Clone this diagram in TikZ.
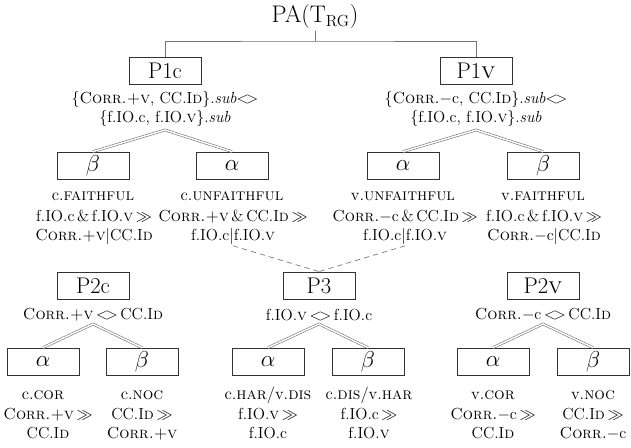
\documentclass[tikz,border=0pt]{standalone}
\usepackage{amsmath,amssymb}
\newcommand{\CCId}{CC.I\textsc{d}}
\newcommand{\mydia}{$\mathord{<}\mkern-3mu\mathord{>}$}
\newcommand{\Cp}{\textsc{Corr.+v}}
\newcommand{\Cm}{\textsc{Corr.}$-$c}
\newcommand{\fc}{f.IO.c}
\newcommand{\fv}{f.IO.\textsc{v}}
\newcommand{\mgg}{\,$\gg$}
\begin{document}
\begin{tikzpicture}[x=0.75pt,y=-0.75pt,
  every node/.style={font=\fontsize{12}{14.25}\selectfont, inner sep=1pt},
  pbox/.style={draw=black!80, line width=0.6pt, minimum width=54pt, minimum height=20.25pt, inner sep=0pt, font=\fontsize{17}{20}\selectfont},
  lab/.style={align=center},
  tag/.style={font=\fontsize{12.5}{15}\selectfont},
  dbl/.style={draw=black!55, double=white, double distance=1.1pt, line width=0.45pt},
  conn/.style={draw=black!55, line width=0.6pt},
  dsh/.style={draw=black!55, dash pattern=on 4pt off 3pt, line width=0.5pt}]
\useasboundingbox (0,0) rectangle (631,447);

% root
\node[font=\fontsize{18}{20}\selectfont] (root) at (315,17) {PA(T$_{\mathrm{RG}}$)};
\coordinate (rj) at (315,41);
\node[pbox] (p1c) at (165,71) {P1c};
\node[pbox] (p1v) at (476,71) {P1\textsc{v}};
\draw[conn] (root.south) -- (rj);
\draw[conn] (p1c.north) |- (rj) -| (p1v.north);

% level 1 texts
\node[lab] (t1c) at (165,109) {$\{$\Cp, \CCId$\}$.\textit{sub}\mydia\\ $\{$\fc, \fv$\}$.\textit{sub}};
\node[lab] (t1v) at (476,109) {$\{$\Cm, \CCId$\}$.\textit{sub}\mydia\\ $\{$\fc, \fv$\}$.\textit{sub}};
\coordinate (x1c) at (165,130);
\coordinate (x1v) at (476,130);

% level 2 boxes
\node[pbox] (b1) at (93,165.5) {$\beta$};
\node[pbox] (a1) at (232,165.5) {$\alpha$};
\node[pbox] (a2) at (403,165.5) {$\alpha$};
\node[pbox] (b2) at (543,165.5) {$\beta$};
\draw[dbl] (b1.north) -- (x1c) -- (a1.north);
\draw[dbl] (a2.north) -- (x1v) -- (b2.north);

\node[lab,tag] (lb1) at (93,196) {c.\textsc{faithful}};
\node[lab,tag] (la1) at (232,196) {c.\textsc{unfaithful}};
\node[lab,tag] (la2) at (403,196) {v.\textsc{unfaithful}};
\node[lab,tag] (lb2) at (543,196) {v.\textsc{faithful}};

\node[lab] (cb1) at (94,227) {\fc\,\&\,\fv\mgg\\ \Cp$|$\CCId};
\node[lab] (ca1) at (233,227) {\Cp\,\&\,\CCId\mgg\\ \fc$|$\fv};
\node[lab] (ca2) at (405,227) {\Cm\,\&\,\CCId\mgg\\ \fc$|$\fv};
\node[lab] (cb2) at (544,227) {\fc\,\&\,\fv\mgg\\ \Cm$|$\CCId};

% level 3 boxes
\node[pbox] (p2c) at (93,285.5) {P2c};
\node[pbox] (p3) at (319,285.5) {P3};
\node[pbox] (p2v) at (543,285.5) {P2\textsc{v}};
\draw[dbl] (cb1.south -| p2c.north) -- (p2c.north);
\draw[dbl] (cb2.south -| p2v.north) -- (p2v.north);
\draw[dsh] (ca1.south) -- (p3.north);
\draw[dsh] (ca2.south) -- (p3.north);

\node[lab] (t2c) at (93,315) {\Cp\,\mydia\,\CCId};
\node[lab] (t3) at (319,315) {\fv\,\mydia\,\fc};
\node[lab] (t2v) at (543,315) {\Cm\,\mydia\,\CCId};
\coordinate (x2c) at (93,324);
\coordinate (x3) at (319,324);
\coordinate (x2v) at (543,324);

% bottom boxes
\node[pbox] (ba1) at (43,361.5) {$\alpha$};
\node[pbox] (bb1) at (142,361.5) {$\beta$};
\node[pbox] (ba2) at (268,361.5) {$\alpha$};
\node[pbox] (bb2) at (368,361.5) {$\beta$};
\node[pbox] (ba3) at (493,361.5) {$\alpha$};
\node[pbox] (bb3) at (593,361.5) {$\beta$};
\draw[dbl] (ba1.north) -- (x2c) -- (bb1.north);
\draw[dbl] (ba2.north) -- (x3) -- (bb2.north);
\draw[dbl] (ba3.north) -- (x2v) -- (bb3.north);

\node[lab,tag] (l1) at (43,395) {c.\textsc{cor}};
\node[lab,tag] (l2) at (142,395) {c.\textsc{noc}};
\node[lab,tag] (l3) at (268,395) {c.\textsc{har}/v.\textsc{dis}};
\node[lab,tag] (l4) at (369,395) {c.\textsc{dis}/v.\textsc{har}};
\node[lab,tag] (l5) at (493,395) {v.\textsc{cor}};
\node[lab,tag] (l6) at (593,395) {v.\textsc{noc}};

\node[lab] (c1) at (48,424) {\Cp\mgg\\ \CCId};
\node[lab] (c2) at (142,424) {\CCId\mgg\\ \Cp};
\node[lab] (c3) at (268,424) {\fv\mgg\\ \fc};
\node[lab] (c4) at (369,424) {\fc\mgg\\ \fv};
\node[lab] (c5) at (493,424) {\Cm\mgg\\ \CCId};
\node[lab] (c6) at (593,424) {\CCId\mgg\\ \Cm};
\end{tikzpicture}
\end{document}
